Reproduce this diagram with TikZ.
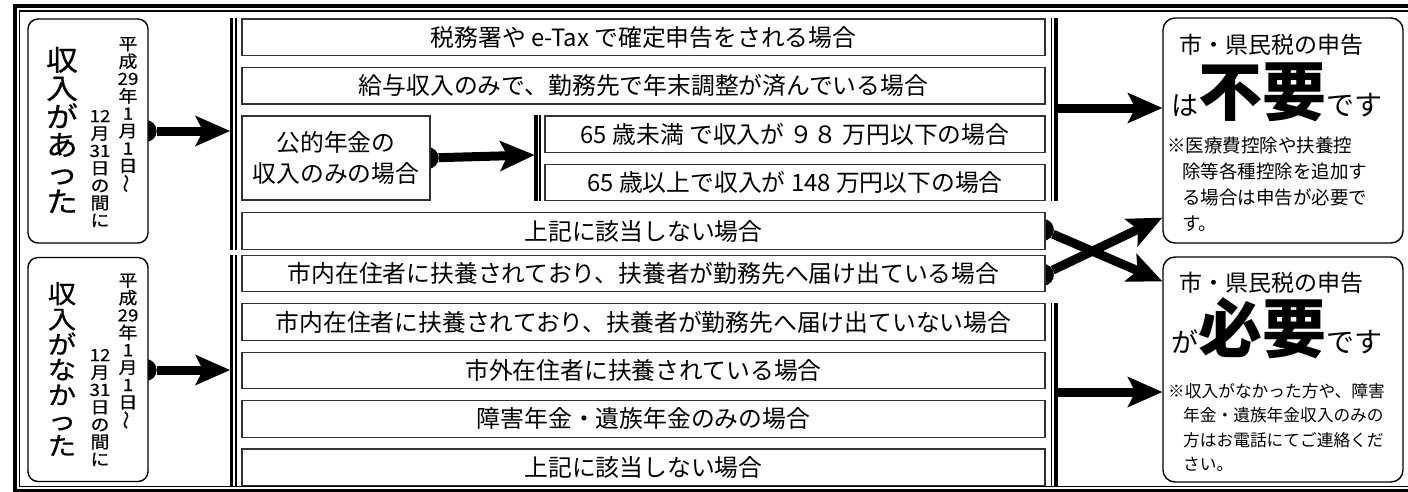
\documentclass[tikz,border=0pt]{standalone}
\usepackage{fontspec}
\setmainfont{Noto Sans CJK JP}
\newfontfamily\colfont[FakeStretch=1.12, FakeBold=0.6]{Noto Sans CJK JP}
\usepackage{tikz}
\usetikzlibrary{positioning,arrows.meta,backgrounds}
\tikzstyle{income} = [rectangle, rounded corners=10pt, minimum width=120pt, minimum height=224pt, draw=black, line width=1.4pt, fill=white]
\tikzstyle{bigcol} = [align=center, inner sep=0pt, font=\colfont\fontsize{28.3}{28.3}\selectfont]
\tikzstyle{datecol} = [align=center, inner sep=0pt, font=\colfont\fontsize{16.8}{17.4}\selectfont]
\tikzstyle{case} = [rectangle, minimum width=803pt, minimum height=36.5pt, inner sep=0pt, draw=black!80, line width=1.2pt, fill=white, font=\fontsize{23.8}{28}\selectfont]
\tikzstyle{subcase} = [case, minimum width=500pt]
\tikzstyle{pension} = [case, minimum width=188pt, minimum height=84pt, align=center, font=\fontsize{23.8}{31}\selectfont]
\tikzstyle{result} = [rectangle, rounded corners=12pt, minimum width=240pt, minimum height=225pt, draw=black, line width=1.4pt, fill=white]
\tikzstyle{headtxt} = [inner sep=0pt, font=\fontsize{23}{23}\selectfont]
\tikzstyle{bigtxt} = [inner sep=0pt, anchor=base]
\tikzstyle{notetxt} = [inner sep=0pt, anchor=north west, align=left]
\tikzstyle{thickbar} = [line width=3.5pt]
\tikzstyle{thinbar} = [line width=1.3pt]
\tikzstyle{arrow} = [line width=9pt, {Circle[length=22pt,line width=0pt]}-{Stealth[length=35pt,width=31pt,inset=8pt,line width=0pt]}, shorten <=-14pt]
\tikzstyle{barrow} = [line width=9pt, -{Stealth[length=35pt,width=31pt,inset=8pt,line width=0pt]}]

\begin{document}
\begin{tikzpicture}[x=1pt, y=-1pt, node distance=10.75pt]

\useasboundingbox (0,0) rectangle (1408,491);
\clip (0,0) rectangle (1408,491);

% frame
\draw [line width=4pt] (14.5,6) rectangle (1440,490.5);
\draw [line width=1.3pt] (19.5,11) rectangle (1430,486.5);

% income boxes
\node (incA) [income] at (88,131) {};
\node (incAtxt) [bigcol] at (62,130) {収\\入\\が\\あ\\っ\\た};
\node (incAd1) [datecol] at (128,115) {平\\成\\29\\年\\1\\月\\1\\日\\\rotatebox{90}{〜}};
\node (incAd2) [datecol] at (100,168.5) {12\\月\\31\\日\\の\\間\\に};

\node (incB) [income] at (88,369.5) {};
\node (incBtxt) [bigcol, font=\colfont\fontsize{25.3}{25.3}\selectfont] at (62,369) {収\\入\\が\\な\\か\\っ\\た};
\node (incBd1) [datecol] at (128,351.5) {平\\成\\29\\年\\1\\月\\1\\日\\\rotatebox{90}{〜}};
\node (incBd2) [datecol] at (100,407.5) {12\\月\\31\\日\\の\\間\\に};

% cases, income
\node (t1) [case] at (643.5,37.25) {税務署や e-Tax で確定申告をされる場合};
\node (t2) [case, below=of t1] {給与収入のみで、勤務先で年末調整が済んでいる場合};
\node (pen) [pension, below right=10.75pt and 0pt of t2.south west] {公的年金の\\収入のみの場合};
\node (s1) [subcase, below left=10.75pt and 0pt of t2.south east] {65 歳未満 で収入が ９８ 万円以下の場合};
\node (s2) [subcase, below=of s1] {65 歳以上で収入が 148 万円以下の場合};
\node (t5) [case, below left=10.75pt and 0pt of s2.south east] {上記に該当しない場合};

% cases, no income
\node (b1) [case] at (643.5,273.5) {市内在住者に扶養されており、扶養者が勤務先へ届け出ている場合};
\node (b2) [case, below=of b1] {市内在住者に扶養されており、扶養者が勤務先へ届け出ていない場合};
\node (b3) [case, below=of b2] {市外在住者に扶養されている場合};
\node (b4) [case, below=of b3] {障害年金・遺族年金のみの場合};
\node (b5) [case, below=of b4] {上記に該当しない場合};

% results
\node (resA) [result] at (1283,130.5) {};
\node (resAhd) [headtxt] at (1271,45) {市・県民税の申告};
\node (resAmain) [bigtxt] at (1277,115) {{\fontsize{27}{27}\selectfont は}{\fontsize{64}{64}\selectfont\bfseries 不要}{\fontsize{28}{28}\selectfont です}};
\node (resAnote) [notetxt, font=\fontsize{18.5}{26}\selectfont] at (1167,137) {※医療費控除や扶養控\\\hspace*{0.8em}除等各種控除を追加す\\\hspace*{0.8em}る場合は申告が必要で\\\hspace*{0.8em}す。};

\node (resB) [result] at (1283,369.5) {};
\node (resBhd) [headtxt] at (1271,283) {市・県民税の申告};
\node (resBmain) [bigtxt] at (1277,352) {{\fontsize{27}{27}\selectfont が}{\fontsize{64}{64}\selectfont\bfseries 必要}{\fontsize{28}{28}\selectfont です}};
\node (resBnote) [notetxt, font=\fontsize{16.7}{24.5}\selectfont] at (1168,383) {※収入がなかった方や、障害\\\hspace*{0.9em}年金・遺族年金収入のみの\\\hspace*{0.9em}方はお電話にてご連絡くだ\\\hspace*{0.9em}さい。};

% bars
\draw [thickbar] ([xshift=-10pt]t1.north west) -- ([xshift=-10pt]t5.south west);
\draw [thinbar] ([xshift=-5.5pt]t1.north west) -- ([xshift=-5.5pt]t5.south west);
\draw [thickbar] ([xshift=-10pt]b1.north west) -- ([xshift=-10pt]b5.south west);
\draw [thinbar] ([xshift=-5.5pt]b1.north west) -- ([xshift=-5.5pt]b5.south west);
\draw [thickbar] ([xshift=-8.5pt]s1.north west) -- ([xshift=-8.5pt]s2.south west);
\draw [thinbar] ([xshift=-4.5pt]s1.north west) -- ([xshift=-4.5pt]s2.south west);
\draw [thinbar] ([xshift=6pt]t1.north east) -- ([xshift=6pt]s2.south east);
\draw [thickbar] ([xshift=10.5pt]t1.north east) -- ([xshift=10.5pt]s2.south east);
\draw [thinbar] ([xshift=6pt]b2.north east) -- ([xshift=6pt]b5.south east);
\draw [thickbar] ([xshift=10.5pt]b2.north east) -- ([xshift=10.5pt]b5.south east);

\coordinate (barA) at (230,131);
\coordinate (barB) at (230,370);
\coordinate (barP) at (534.5,155);
\coordinate (barC) at (1057,108);
\coordinate (barD) at (1057,392);

\begin{pgfonlayer}{background}
\draw [arrow] (incA.east |- barA) -- (barA);
\draw [arrow] (incB.east |- barB) -- (barB);
\draw [arrow] (pen.east) -- (barP);
\draw [barrow] (barC) -- (barC -| resA.west);
\draw [barrow] (barD) -- (barD -| resB.west);
\draw [arrow] (t5.east) -- ([yshift=-25pt]resB.north west);
\draw [arrow] (b1.east) -- ([yshift=26pt]resA.south west);
\end{pgfonlayer}

\end{tikzpicture}
\end{document}
